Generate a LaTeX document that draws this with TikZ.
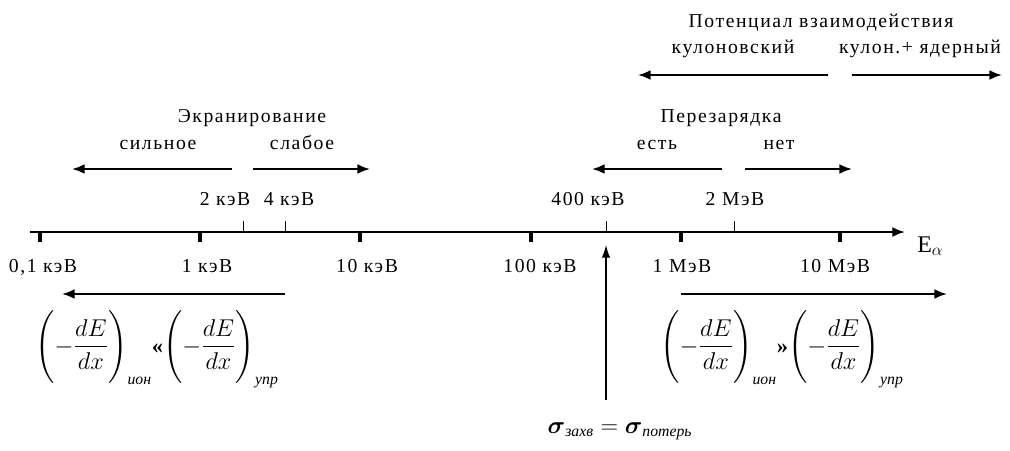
\documentclass[tikz,border=0pt]{standalone}
\usepackage{fontspec}
\setmainfont[LetterSpace=8]{Liberation Serif}
\newfontfamily\subfont{Liberation Serif}
\usepackage{amsmath}
\usetikzlibrary{arrows.meta}

\tikzset{
  spanarrow/.style={line width=1.4pt, -{Latex[length=9pt,width=7pt]}},
  capture/.style={line width=0.9pt, -{Latex[length=9pt,width=6pt]}},
  major/.style={line width=2.2pt},
  minor/.style={line width=0.5pt},
  lab/.style={anchor=base, inner sep=0pt},
  formula/.style={font=\fontsize{16}{19}\selectfont},
}
\newcommand{\subtxt}[1]{\text{\subfont\itshape #1}}
\newcommand{\lossrate}[1]{\Biggl(-\dfrac{dE}{dx}\Biggr)_{\subtxt{#1}}}

\begin{document}
\begin{tikzpicture}[x=0.025cm, y=-0.025cm, font=\fontsize{14}{16}\selectfont]
\useasboundingbox (0,0) rectangle (1010,450);

% Energy axis
\coordinate (axstart) at (30,232);
\coordinate (axend) at (905,232);
\draw[spanarrow] (axstart) -- (axend);
\node[anchor=base west, inner sep=0pt, font=\fontsize{17}{20}\selectfont] (ealpha) at (917,252) {E$_\alpha$};

% Decades
\foreach \x/\lx/\lab [count=\i] in {40/43/{0,1 кэВ}, 200/207/1 кэВ, 360/367/10 кэВ,
    531/540/100 кэВ, 681/682/1 МэВ, 840/835/10 МэВ}
{
  \draw[major] (\x,232) -- (\x,242);
  \node[lab] (dec\i) at (\lx,272) {\lab};
}

% Boundaries
\foreach \x/\lx/\lab [count=\i] in {243/225/2 кэВ, 285/289/4 кэВ, 606/588/400 кэВ, 734/735/2 МэВ}
{
  \draw[minor] (\x,221) -- (\x,232);
  \node[lab] (bnd\i) at (\lx,205) {\lab};
}

% Screening
\node[lab] (scr) at (252,122) {Экранирование};
\node[lab] (strong) at (158,149) {сильное};
\node[lab] (weak) at (302,149) {слабое};
\coordinate (strongA) at (232,169);
\coordinate (strongB) at (72,169);
\coordinate (weakA) at (253,169);
\coordinate (weakB) at (370,169);
\draw[spanarrow] (strongA) -- (strongB);
\draw[spanarrow] (weakA) -- (weakB);

% Charge exchange
\node[lab] (chg) at (721,122) {Перезарядка};
\node[lab] (yes) at (657,149) {есть};
\node[lab] (no) at (779,149) {нет};
\coordinate (yesA) at (722,169);
\coordinate (yesB) at (592,169);
\coordinate (noA) at (745,169);
\coordinate (noB) at (852,169);
\draw[spanarrow] (yesA) -- (yesB);
\draw[spanarrow] (noA) -- (noB);

% Interaction potential
\node[lab] (pot) at (821,27) {Потенциал взаимодействия};
\node[lab] (coul) at (733,53) {кулоновский};
\node[lab] (nucl) at (920,53) {кулон.+ ядерный};
\coordinate (coulA) at (828,75);
\coordinate (coulB) at (638,75);
\coordinate (nuclA) at (852,75);
\coordinate (nuclB) at (1002,75);
\draw[spanarrow] (coulA) -- (coulB);
\draw[spanarrow] (nuclA) -- (nuclB);

% Stopping
\coordinate (lowA) at (285,294);
\coordinate (lowB) at (62,294);
\coordinate (highA) at (681,294);
\coordinate (highB) at (947,294);
\draw[spanarrow] (lowA) -- (lowB);
\draw[spanarrow] (highA) -- (highB);
\node[formula] (lowf) at (157,349) {$\lossrate{ион}\textbf{«}\lossrate{упр}$};
\node[formula] (highf) at (782,349) {$\lossrate{ион}\textbf{»}\lossrate{упр}$};

% Capture = loss
\node[formula, lab] (sigma) at (620,433) {$\boldsymbol{\sigma}_{\subtxt{захв}} = \boldsymbol{\sigma}_{\subtxt{потерь}}$};
\coordinate (capt) at (606,245);
\coordinate (captfoot) at (606,400);
\draw[capture] (captfoot) -- (capt);

\end{tikzpicture}
\end{document}
